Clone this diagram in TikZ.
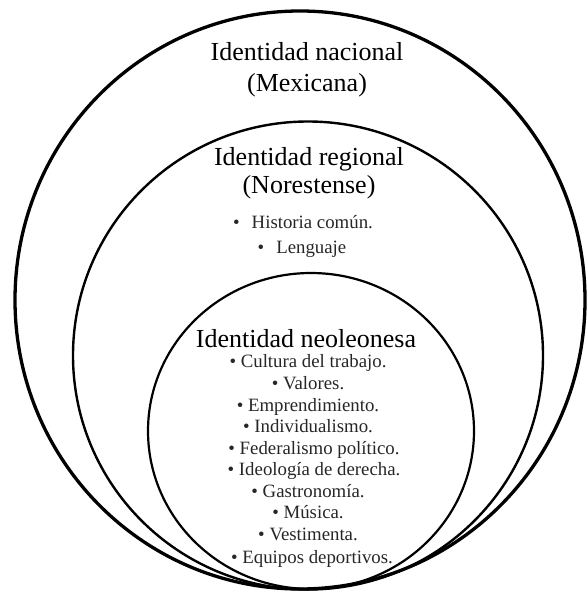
\documentclass[tikz,border=0pt]{standalone}
\usepackage{fontspec}
\setmainfont{Liberation Serif}
\begin{document}
\begin{tikzpicture}[x=1pt,y=-1pt,
  hdr/.style={font=\fontsize{26}{30}\selectfont, anchor=base, inner sep=0pt, text=black},
  itm/.style={font=\fontsize{18.8}{22}\selectfont, anchor=base, inner sep=0pt, text=black!85},
  ring/.style={draw=black}]
\useasboundingbox (0,0) rectangle (587,594);
% national
\node[hdr] (n1) at (307,60) {Identidad nacional};
\node[hdr] (n2) at (307,91) {(Mexicana)};
% regional
\node[hdr] (r1) at (309,165) {Identidad regional};
\node[hdr] (r2) at (309,193) {(Norestense)};
\node[itm] (r3) at (303,228) {•\hspace{12pt}Historia común.};
\node[itm] (r4) at (302,253) {•\hspace{12pt}Lenguaje};
% neoleonesa
\node[hdr] (i0) at (306,347) {Identidad neoleonesa};
\node[itm] (i1) at (308,367) {• Cultura del trabajo.};
\node[itm] (i2) at (308,389) {• Valores.};
\node[itm] (i3) at (308,411) {• Emprendimiento.};
\node[itm] (i4) at (308,432) {• Individualismo.};
\node[itm] (i5) at (314,454) {• Federalismo político.};
\node[itm] (i6) at (314,475) {• Ideología de derecha.};
\node[itm] (i7) at (308,497) {• Gastronomía.};
\node[itm] (i8) at (308,518) {• Música.};
\node[itm] (i9) at (308,540) {• Vestimenta.};
\node[itm] (i10) at (312,563) {• Equipos deportivos.};
% circles
\draw[ring, line width=3.3pt] (300,300) ellipse [x radius=285pt, y radius=289pt];
\draw[ring, line width=2.4pt] (308,355.5) ellipse [x radius=235pt, y radius=234pt];
\draw[ring, line width=2.2pt] (311,431) ellipse [x radius=163pt, y radius=158pt];
\end{tikzpicture}
\end{document}
